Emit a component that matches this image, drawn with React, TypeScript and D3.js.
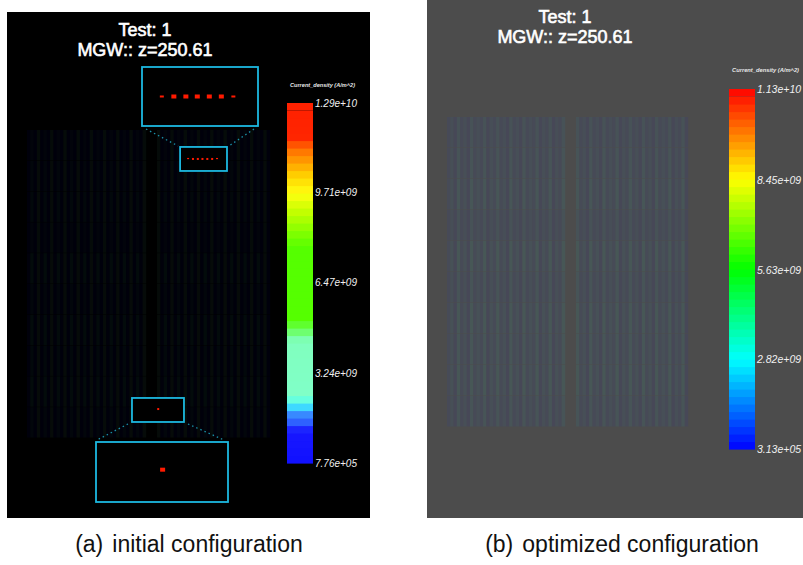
import * as d3 from "d3";
import React from "react";

// colour bar ranges and tick labels (top to bottom)
const rangeA = [7.76e5, 1.29e10];
const rangeB = [3.13e5, 1.13e10];
const ticksA = ["1.29e+10", "9.71e+09", "6.47e+09", "3.24e+09", "7.76e+05"];
const ticksB = ["1.13e+10", "8.45e+09", "5.63e+09", "2.82e+09", "3.13e+05"];
const barTitle = "Current_density (A/m^2)";

// colour map of panel (a), fraction of range -> colour
const cmapAStops = [0, 0.09, 0.11, 0.14, 0.165, 0.185, 0.34, 0.4, 0.6, 0.7, 0.75, 0.8, 0.84, 0.88, 0.9, 1];
const cmapAColors = ["#1010ff", "#1818ff", "#2c58ff", "#3a92ff", "#40ffff", "#80ffc8", "#80ffbe", "#55ff00", "#55ff00", "#c4ff00", "#ffff10", "#ffd000", "#ff9a00", "#ff6400", "#ff2600", "#ff2000"];

// current density stripes across the two conductor blocks (0..9) and row levels
const stripesLeft = "130513051315031513051305131503150315";
const stripesRight = "5130513051315031513051305131503150";
const rowLevels = [0.7, 0.8, 0.9, 0.7, 1.0, 0.8, 1.0, 0.9, 1.0, 0.8];

// hot spots in panel (a), as fractions of the map
const hotTopX = [0.663, 0.683, 0.703, 0.722, 0.742, 0.762, 0.782];
const hotTopY = 0.094;
const hotLow = [0.54, 0.906];

const cmapA = d3.scaleLinear<string>().domain(cmapAStops).range(cmapAColors).clamp(true);
const cmapB = (t: number) => d3.hsl(240 - 240 * Math.max(0, Math.min(1, t)), 1, 0.5).toString();

const BANDS = 48;

function ColorBar({ x, top, bottom, range, ticks, cmap, fontSize, titleY, titleX, titleLen }: any) {
  const y = d3.scaleLinear().domain(range).range([bottom, top]);
  const band = d3.scaleBand<number>().domain(d3.range(BANDS)).range([bottom, top]);
  return (
    <g>
      <text x={titleX} y={titleY} fontSize={5.5} fontStyle="italic" fontWeight="bold"
        fill="#e8e8e8" fontFamily="Liberation Sans" textLength={titleLen} lengthAdjust="spacingAndGlyphs">
        {barTitle}
      </text>
      {d3.range(BANDS).map((i) => (
        <rect key={i} x={x} width={26} y={band(i)!} height={band.bandwidth() + (i === BANDS - 1 ? 0 : 0.6)}
          fill={cmap((i + 0.5) / BANDS)} />
      ))}
      {ticks.map((t: string) => (
        <text key={t} x={x + 28} y={y(+t) + 4} fontSize={fontSize} fontStyle="italic"
          fill="#f0f0f0" fontFamily="Liberation Sans">{t}</text>
      ))}
    </g>
  );
}

function CurrentMap({ x0, x1, y0, y1, cmap, opacity }: any) {
  const gapFrac = 11 / 241;
  const leftFrac = 118 / 241;
  const xs = d3.scaleLinear().domain([0, 1]).range([x0, x1]);
  const rows = d3.scaleBand<number>().domain(d3.range(rowLevels.length)).range([y0, y1]);
  const level = d3.scaleLinear().domain([0, 9]).range([0.02, 0.45]);
  const blocks = [
    { s: stripesLeft, a: 0, b: leftFrac },
    { s: stripesRight, a: leftFrac + gapFrac, b: 1 },
  ];
  return (
    <g opacity={opacity}>
      {blocks.map((bl, bi) => {
        const cols = d3.scaleBand<number>().domain(d3.range(bl.s.length)).range([xs(bl.a), xs(bl.b)]);
        return rowLevels.map((rl, ri) =>
          bl.s.split("").map((ch, ci) => (
            <rect key={`${bi}-${ri}-${ci}`} x={cols(ci)} y={rows(ri)} width={cols.bandwidth() + 0.2}
              height={rows.bandwidth() - 0.5} fill={cmap(level(+ch) * rl)} />
          ))
        );
      })}
    </g>
  );
}

function Inset({ region, big, mapX, mapY, dots, dir }: any) {
  const cyan = "#1cb8e0";
  const bx = d3.scaleLinear().domain([region[0], region[1]]).range([big[0], big[1]]);
  const by = d3.scaleLinear().domain([region[2], region[3]]).range([big[2], big[3]]);
  const sx0 = mapX(region[0]), sx1 = mapX(region[1]);
  const sy0 = mapY(region[2]), sy1 = mapY(region[3]);
  const lines = dir === "down"
    ? [[big[0] + 4, big[3] + 3, sx0 - 2, sy0 - 1], [big[1] - 4, big[3] + 3, sx1 + 2, sy0 - 1]]
    : [[sx0 - 4, sy1 + 2, big[0] + 1, big[2] - 2], [sx1 + 4, sy1 + 2, big[1] - 4, big[2] - 2]];
  return (
    <g>
      {lines.map((l, i) => (
        <line key={i} x1={l[0]} y1={l[1]} x2={l[2]} y2={l[3]} stroke="#1a90a8" strokeWidth={1.3}
          strokeDasharray="1.5,3" />
      ))}
      <rect x={sx0} y={sy0} width={sx1 - sx0} height={sy1 - sy0} fill="#000" stroke={cyan} strokeWidth={1.8} />
      <rect x={big[0]} y={big[2]} width={big[1] - big[0]} height={big[3] - big[2]} fill="#000" stroke={cyan} strokeWidth={1.8} />
      {dots.map((d: number[], i: number) => {
        const end = dots.length > 1 && (i === 0 || i === dots.length - 1);
        const w = end ? 4 : 5, h = end ? 2 : 4;
        return (
          <g key={i}>
            <rect x={bx(d[0]) - w / 2} y={by(d[1]) - h / 2} width={w} height={h} fill="#ff1a00" />
            <rect x={mapX(d[0]) - 1} y={mapY(d[1]) - 1} width={2} height={end ? 1.2 : 2} fill="#ff1a00" />
          </g>
        );
      })}
    </g>
  );
}

function Title({ cx, y1, y2 }: any) {
  const style = { fontFamily: "Liberation Sans", fontSize: 18, fill: "#fff", stroke: "#fff", strokeWidth: 0.6 } as any;
  return (
    <g textAnchor="middle">
      <text x={cx} y={y1} {...style}>Test: 1</text>
      <text x={cx} y={y2} {...style}>MGW:: z=250.61</text>
    </g>
  );
}

export default function App() {
  const mapXA = d3.scaleLinear().domain([0, 1]).range([27, 270]);
  const mapYA = d3.scaleLinear().domain([0, 1]).range([130, 438]);
  return (
    <svg width={803} height={565} style={{ position: "absolute", left: 0, top: 0, background: "#fff" }}>
      {/* panel (a) */}
      <rect x={7} y={12} width={363} height={506} fill="#000" />
      <CurrentMap x0={27} x1={270} y0={130} y1={438} cmap={cmapA} opacity={0.045} />
      <Title cx={145} y1={36} y2={56} />
      <Inset region={[0.63, 0.823, 0.055, 0.133]} big={[142, 258, 67, 126]}
        mapX={mapXA} mapY={mapYA} dots={hotTopX.map((hx) => [hx, hotTopY])} dir="down" />
      <Inset region={[0.432, 0.646, 0.87, 0.948]} big={[96, 228, 442, 502]}
        mapX={mapXA} mapY={mapYA} dots={[hotLow]} dir="up" />
      <ColorBar x={287} top={103} bottom={463} range={rangeA} ticks={ticksA} cmap={cmapA}
        fontSize={10} titleX={290} titleY={87} titleLen={65} />

      {/* panel (b) */}
      <rect x={427} y={0} width={376} height={518} fill="#4c4c4c" />
      <CurrentMap x0={447} x1={688} y0={117} y1={427} cmap={cmapB} opacity={0.06} />
      <Title cx={565} y1={23} y2={43} />
      <ColorBar x={729} top={89} bottom={449} range={rangeB} ticks={ticksB} cmap={cmapB}
        fontSize={10.5} titleX={732} titleY={72} titleLen={67} />

      {/* captions */}
      <g fontFamily="Liberation Sans" fontSize={23} fill="#111" textAnchor="middle">
        <text x={189} y={552}>(a)<tspan dx={9}>initial configuration</tspan></text>
        <text x={622} y={552}>(b)<tspan dx={9}>optimized configuration</tspan></text>
      </g>
    </svg>
  );
}
